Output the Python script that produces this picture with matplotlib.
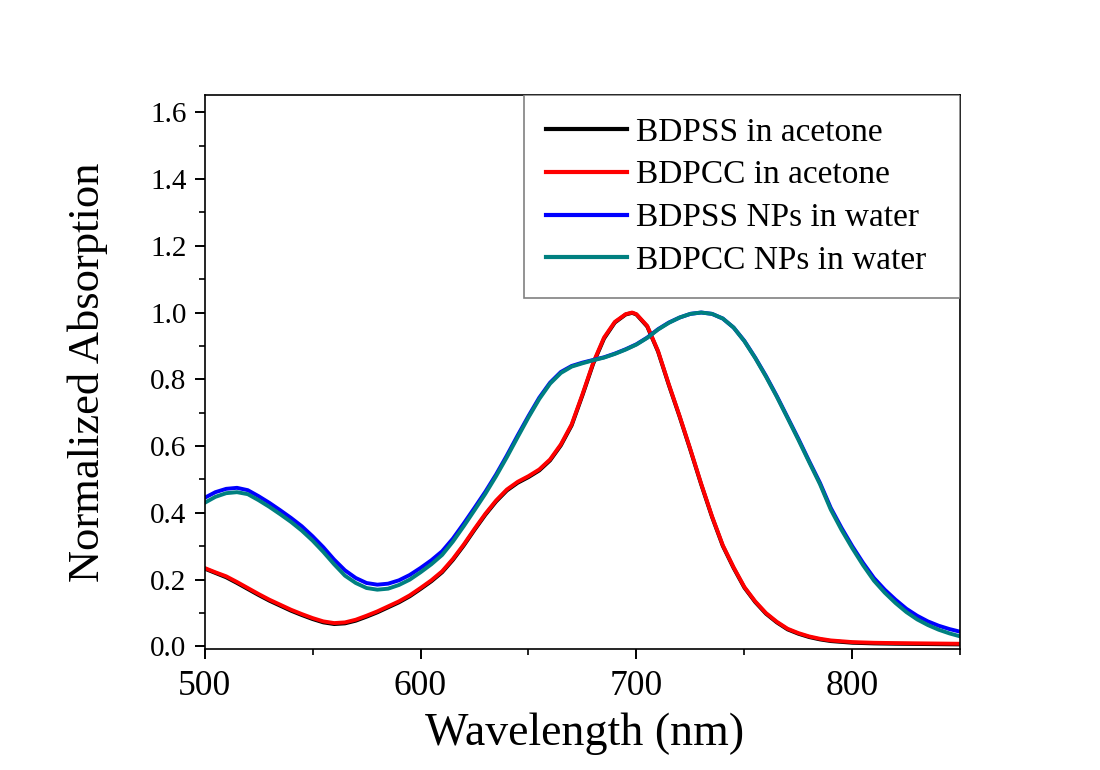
import numpy as np
import matplotlib
matplotlib.use("Agg")
import matplotlib.pyplot as plt
from matplotlib.ticker import MultipleLocator
from matplotlib.patches import Rectangle

# wavelength grids (nm)
wl_acetone = [500, 505, 510, 515, 520, 525, 530, 535, 540, 545, 550, 555, 560,
              565, 570, 575, 580, 585, 590, 595, 600, 605, 610, 615, 620, 625,
              630, 635, 640, 645, 650, 655, 660, 665, 670, 675, 680, 685, 690,
              695, 698, 700, 705, 710, 715, 720, 725, 730, 735, 740, 745, 750,
              755, 760, 765, 770, 775, 780, 785, 790, 800, 810, 820, 835, 850]
wl_water = list(range(500, 855, 5))

# normalized absorption
bdpcc_acetone = [0.235, 0.222, 0.21, 0.193, 0.175, 0.157, 0.14, 0.125, 0.11,
                 0.097, 0.085, 0.075, 0.07, 0.072, 0.08, 0.092, 0.105, 0.12,
                 0.135, 0.153, 0.175, 0.198, 0.225, 0.262, 0.305, 0.352, 0.397,
                 0.437, 0.47, 0.493, 0.51, 0.53, 0.56, 0.605, 0.665, 0.755,
                 0.85, 0.925, 0.972, 0.995, 1.0, 0.995, 0.96, 0.885, 0.785,
                 0.69, 0.59, 0.487, 0.39, 0.303, 0.237, 0.178, 0.135, 0.1,
                 0.074, 0.053, 0.04, 0.03, 0.023, 0.018, 0.013, 0.011, 0.01,
                 0.009, 0.008]
bdpss_acetone = [0.233, 0.22, 0.207, 0.19, 0.172, 0.154, 0.137, 0.122, 0.107,
                 0.094, 0.082, 0.072, 0.067, 0.069, 0.077, 0.089, 0.102, 0.117,
                 0.132, 0.15, 0.172, 0.195, 0.222, 0.259, 0.302, 0.349, 0.394,
                 0.434, 0.467, 0.49, 0.507, 0.527, 0.557, 0.602, 0.662, 0.752,
                 0.847, 0.922, 0.97, 0.994, 0.999, 0.994, 0.958, 0.883, 0.783,
                 0.688, 0.588, 0.485, 0.388, 0.301, 0.235, 0.176, 0.133, 0.098,
                 0.072, 0.051, 0.038, 0.028, 0.021, 0.016, 0.011, 0.009, 0.008,
                 0.007, 0.006]
bdpss_water = [0.445, 0.462, 0.472, 0.475, 0.468, 0.45, 0.43, 0.408, 0.385,
               0.36, 0.33, 0.297, 0.26, 0.228, 0.205, 0.19, 0.185, 0.188,
               0.198, 0.214, 0.235, 0.258, 0.285, 0.323, 0.368, 0.415, 0.463,
               0.515, 0.572, 0.632, 0.69, 0.745, 0.79, 0.822, 0.84, 0.85,
               0.858, 0.866, 0.877, 0.89, 0.905, 0.925, 0.95, 0.97, 0.985,
               0.996, 1.0, 0.996, 0.982, 0.955, 0.915, 0.865, 0.81, 0.75,
               0.686, 0.622, 0.555, 0.49, 0.415, 0.355, 0.3, 0.25, 0.205,
               0.17, 0.14, 0.113, 0.092, 0.075, 0.062, 0.052, 0.044]
bdpcc_water = [0.43, 0.448, 0.459, 0.462, 0.456, 0.438, 0.418, 0.396, 0.373,
               0.347, 0.317, 0.283, 0.246, 0.212, 0.19, 0.175, 0.17, 0.173,
               0.184, 0.2, 0.222, 0.246, 0.274, 0.314, 0.36, 0.408, 0.457,
               0.51, 0.567, 0.627, 0.686, 0.741, 0.787, 0.819, 0.838, 0.848,
               0.857, 0.865, 0.876, 0.889, 0.904, 0.924, 0.949, 0.969, 0.985,
               0.996, 1.0, 0.996, 0.982, 0.955, 0.914, 0.864, 0.808, 0.748,
               0.684, 0.619, 0.552, 0.486, 0.41, 0.349, 0.294, 0.243, 0.197,
               0.161, 0.13, 0.103, 0.081, 0.064, 0.05, 0.039, 0.03]

plt.rcParams['font.family'] = ['Liberation Serif', 'DejaVu Serif']

fig = plt.figure(figsize=(11, 7.7), dpi=100)
ax = fig.add_axes([0.186, 0.157, 0.687, 0.719])

lw = 2.8
ax.plot(wl_acetone, bdpss_acetone, color='black', lw=lw, label='BDPSS in acetone')
ax.plot(wl_acetone, bdpcc_acetone, color='#ff0000', lw=lw, label='BDPCC in acetone')
ax.plot(wl_water, bdpss_water, color='#0000ff', lw=lw, label='BDPSS NPs in water')
ax.plot(wl_water, bdpcc_water, color='#008080', lw=lw, label='BDPCC NPs in water')

ax.set_xlim(500, 850)
ax.set_ylim(-0.008, 1.65)
ax.xaxis.set_major_locator(MultipleLocator(100))
ax.xaxis.set_minor_locator(MultipleLocator(50))
ax.yaxis.set_major_locator(MultipleLocator(0.2))
ax.yaxis.set_minor_locator(MultipleLocator(0.1))
ax.yaxis.set_major_formatter(plt.FormatStrFormatter('%.1f'))

for s in ax.spines.values():
    s.set_linewidth(1.2)
ax.tick_params(which='major', direction='out', length=7, width=1.4)
ax.tick_params(which='minor', direction='out', length=4, width=1.2)
ax.tick_params(axis='x', which='major', labelsize=25.5, pad=8)
ax.tick_params(axis='y', which='major', labelsize=21, pad=6)

ax.set_xlabel('Wavelength (nm)', fontsize=33)
ax.set_ylabel('Normalized Absorption', fontsize=32)
ax.xaxis.set_label_coords(0.503, -0.114)
ax.yaxis.set_label_coords(-0.128, 0.5)

# legend without its own frame; the box is drawn so it reaches the right spine
leg = ax.legend(loc='upper right', bbox_to_anchor=(1 - 12 / 756, 1),
                fontsize=24, borderaxespad=0, frameon=False,
                handlelength=2.45, handletextpad=0.27, labelspacing=0.37,
                borderpad=0.65)
for line in leg.get_lines():
    line.set_linewidth(3)
leg.set_zorder(6)

fig.canvas.draw()
bb = leg.get_window_extent().transformed(ax.transAxes.inverted())
box = Rectangle((bb.x0, bb.y0), 1 - bb.x0, 1 - bb.y0, transform=ax.transAxes,
                facecolor='white', edgecolor='#808080', lw=1.2, zorder=5)
ax.add_patch(box)

fig.savefig('out.png', dpi=100, facecolor='white')
